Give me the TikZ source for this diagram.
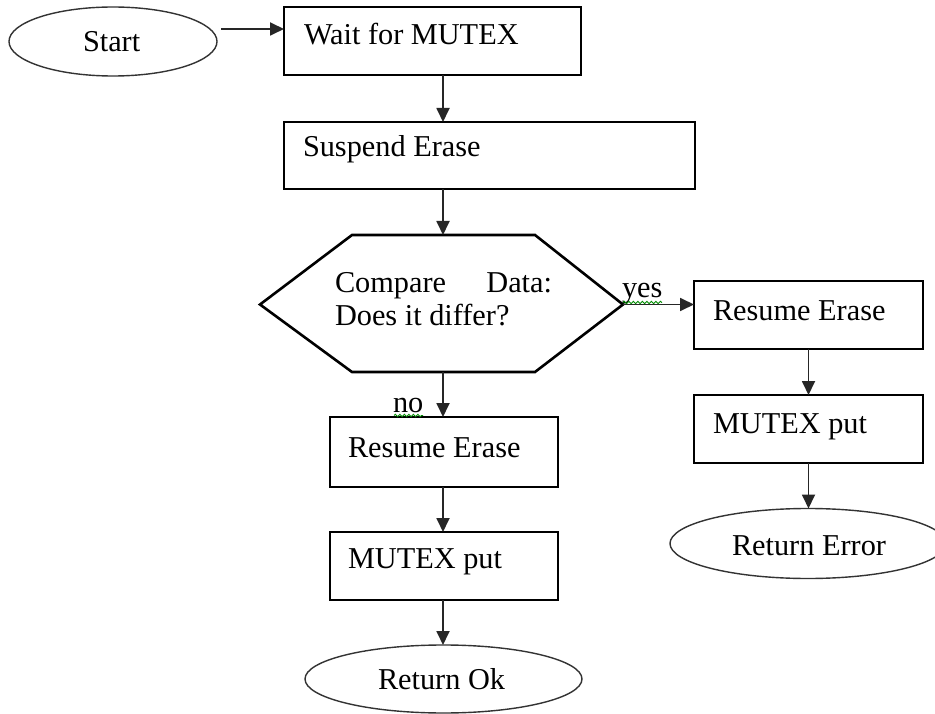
\documentclass[tikz,border=0pt]{standalone}
\usepackage{fontspec}
\setmainfont{Liberation Serif}
\usetikzlibrary{shapes.geometric,arrows.meta,decorations.pathmorphing}
\begin{document}
\begin{tikzpicture}[x=1pt,y=-1pt,
  every node/.style={inner sep=0pt,outer sep=0pt},
  procbox/.style={draw=black,line width=1.7pt,rectangle},
  term/.style={draw=black!80,line width=1.4pt,ellipse},
  txt/.style={font=\fontsize{30.3}{36}\selectfont,anchor=base west},
  arr/.style={draw=black!85,line width=1.8pt,-{Triangle[length=14pt,width=13pt]}},
  squig/.style={draw=green!55!black,line width=0.9pt,decorate,decoration={snake,amplitude=1.2pt,segment length=4.5pt}}]
\clip (0,0) rectangle (935,714);
\fill[white] (0,0) rectangle (935,714);
% shapes
\node[term,minimum width=208pt,minimum height=69pt] (start) at (113,41.5) {};
\node[procbox,minimum width=297pt,minimum height=68pt] (b1) at (432.5,41) {};
\node[procbox,minimum width=411pt,minimum height=67pt] (b2) at (489.5,155.5) {};
\coordinate (hexT) at (443,235);
\coordinate (hexB) at (443,372);
\coordinate (hexR) at (623,304.5);
\draw[black,line width=2.6pt,line join=miter] (260,304.5) -- (352,235) -- (535,235) -- (hexR) -- (535,372) -- (352,372) -- cycle;
\node[procbox,minimum width=229pt,minimum height=68pt] (r1) at (808.5,315) {};
\node[procbox,minimum width=229pt,minimum height=68pt] (r2) at (808.5,429) {};
\node[term,minimum width=276pt,minimum height=70pt] (e2) at (808,543.5) {};
\node[procbox,minimum width=228pt,minimum height=70pt] (l1) at (444,452) {};
\node[procbox,minimum width=228pt,minimum height=68pt] (l2) at (444,566) {};
\node[term,minimum width=277pt,minimum height=68pt] (e1) at (443.5,679) {};
% texts
\node[txt] (tstart) at (83,52) {Start};
\node[txt] (tb1) at (304,45) {Wait for MUTEX};
\node[txt] (tb2) at (303,157) {Suspend Erase};
\node[txt] (th1) at (335,293) {Compare};
\node[txt,anchor=base east] (th2) at (552,293) {Data:};
\node[txt] (th3) at (335,326) {Does it differ?};
\node[txt] (tyes) at (622,298) {yes};
\node[txt] (tno) at (393,412) {no};
\node[txt] (tr1) at (713,320) {Resume Erase};
\node[txt] (tr2) at (713,433) {MUTEX put};
\node[txt] (te2) at (732,555) {Return Error};
\node[txt] (tl1) at (348,457) {Resume Erase};
\node[txt] (tl2) at (348,568) {MUTEX put};
\node[txt] (te1) at (378,689) {Return Ok};
% connectors
\draw[arr] ([xshift=4pt,yshift=12.5pt]start.east) -- ([yshift=12.5pt]start.east -| b1.west);
\draw[arr] (hexT |- b1.south) -- (hexT |- b2.north);
\draw[arr] (hexT |- b2.south) -- (hexT);
\draw[arr] (hexR) -- (hexR -| r1.west);
\draw[arr] (r1.south) -- (r2.north);
\draw[arr] (r2.south) -- (r2.south |- e2.north);
\draw[arr] (hexB) -- (hexB |- l1.north);
\draw[arr] (hexB |- l1.south) -- (hexB |- l2.north);
\draw[arr] (hexB |- l2.south) -- (hexB |- e1.north);
% spell-check underlines
\draw[squig] (623,302.5) -- (662,302.5);
\draw[squig] (394,415.5) -- (423,415.5);
\end{tikzpicture}
\end{document}
